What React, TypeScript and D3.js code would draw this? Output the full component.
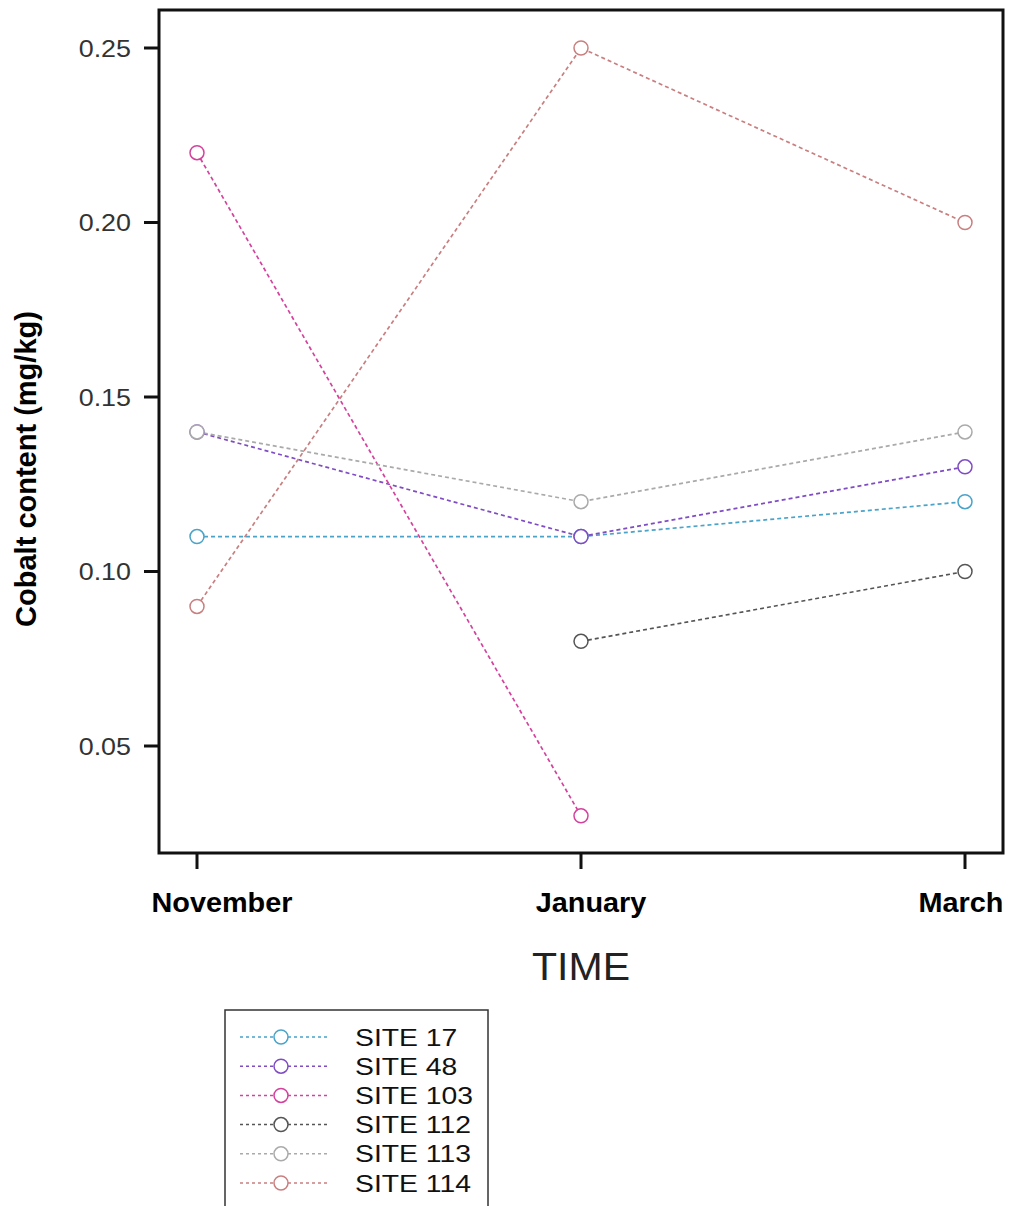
import React from "react";
import * as d3 from "d3";

const months = ["November", "January", "March"];
const sites = ["SITE 17", "SITE 48", "SITE 103", "SITE 112", "SITE 113", "SITE 114"];
const site17 = [0.11, 0.11, 0.12];
const site48 = [0.14, 0.11, 0.13];
const site103 = [0.22, 0.03, null];
const site112 = [null, 0.08, 0.10];
const site113 = [0.14, 0.12, 0.14];
const site114 = [0.09, 0.25, 0.20];
const yTicks = [0.05, 0.10, 0.15, 0.20, 0.25];
const colors = ["#4aa3c9", "#7f4cc4", "#d4429e", "#555555", "#aaaaaa", "#c97f80"];

const seriesValues: (number | null)[][] = [site17, site48, site103, site112, site113, site114];

export default function App() {
  const W = 1011, H = 1206;
  const left = 159, right = 1003, top = 10, bottom = 853;
  const x = d3.scalePoint<string>().domain(months).range([197, 965]);
  const y = d3.scaleLinear().domain([0.05, 0.25]).range([746, 48]);
  const font = "'Liberation Sans', Arial, Helvetica, sans-serif";
  const labelShift = [25, 10, -4];

  const line = d3
    .line<{ m: string; v: number | null }>()
    .defined((d) => d.v !== null)
    .x((d) => x(d.m) as number)
    .y((d) => y(d.v as number));

  const legX = 225, legY = 1010, legW = 263, legH = 205;
  const rowY = (i: number) => 1037 + i * 29.2;

  return (
    <svg width={W} height={H} style={{ position: "absolute", left: 0, top: 0, background: "#fff" }}>
      <rect x={0} y={0} width={W} height={H} fill="#fff" />
      {seriesValues.map((vals, si) => (
        <path
          key={"l" + si}
          d={line(months.map((m, i) => ({ m, v: vals[i] }))) || ""}
          fill="none"
          stroke={colors[si]}
          strokeWidth={1.7}
          strokeDasharray="4,3"
        />
      ))}
      {seriesValues.map((vals, si) =>
        vals.map((v, i) =>
          v === null ? null : (
            <circle
              key={"c" + si + "-" + i}
              cx={x(months[i]) as number}
              cy={y(v)}
              r={7}
              fill="#fff"
              stroke={colors[si]}
              strokeWidth={1.5}
            />
          )
        )
      )}
      <rect x={left} y={top} width={right - left} height={bottom - top} fill="none" stroke="#111" strokeWidth={3} />
      {yTicks.map((t) => (
        <g key={"yt" + t}>
          <line x1={left - 15} x2={left} y1={y(t)} y2={y(t)} stroke="#111" strokeWidth={3} />
          <text
            transform={`translate(131,${y(t)}) scale(1.12,1)`}
            dy="0.36em"
            textAnchor="end"
            fontFamily={font}
            fontSize={24}
            fill="#333"
          >
            {t.toFixed(2)}
          </text>
        </g>
      ))}
      {months.map((m, i) => (
        <g key={"xt" + m}>
          <line x1={x(m) as number} x2={x(m) as number} y1={bottom} y2={bottom + 16} stroke="#111" strokeWidth={3} />
          <text
            transform={`translate(${(x(m) as number) + labelShift[i]},912) scale(1.03,1)`}
            textAnchor="middle"
            fontFamily={font}
            fontSize={28}
            fontWeight="bold"
            fill="#000"
          >
            {m}
          </text>
        </g>
      ))}
      <text
        transform="translate(581,980) scale(1.08,1)"
        textAnchor="middle"
        fontFamily={font}
        fontSize={38}
        fill="#222"
      >
        TIME
      </text>
      <text
        transform={`translate(36,469) rotate(-90)`}
        textAnchor="middle"
        fontFamily={font}
        fontSize={29}
        fontWeight="bold"
        fill="#000"
      >
        Cobalt content (mg/kg)
      </text>
      <rect x={legX} y={legY} width={legW} height={legH} fill="#fff" stroke="#333" strokeWidth={1.5} />
      {sites.map((s, i) => (
        <g key={"lg" + s}>
          <line x1={240} x2={327} y1={rowY(i)} y2={rowY(i)} stroke={colors[i]} strokeWidth={1.5} strokeDasharray="3,3" />
          <circle cx={281} cy={rowY(i)} r={7} fill="#fff" stroke={colors[i]} strokeWidth={1.5} />
          <text
            transform={`translate(355,${rowY(i)}) scale(1.18,1)`}
            dy="0.36em"
            fontFamily={font}
            fontSize={24}
            fill="#111"
          >
            {s}
          </text>
        </g>
      ))}
    </svg>
  );
}
